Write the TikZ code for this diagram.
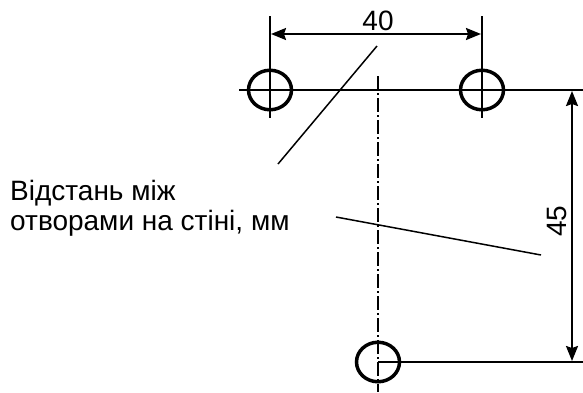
\documentclass[tikz,border=0pt]{standalone}
\usepackage{fontspec}
\setmainfont{Liberation Sans}
\usetikzlibrary{arrows.meta,shapes.geometric}
\tikzset{
  hole/.style={ellipse,draw,line width=3.5pt,minimum width=43pt,minimum height=39.5pt,inner sep=0pt},
  thin line/.style={line width=1.5pt},
  dim line/.style={line width=2pt,{Stealth[length=15pt,width=12pt,inset=2pt]}-{Stealth[length=15pt,width=12pt,inset=2pt]}},
  axis line/.style={line width=1.5pt,dash pattern=on 14pt off 3pt on 2pt off 3pt},
  label/.style={font=\fontsize{28}{30}\selectfont,inner sep=0pt}
}
\begin{document}
\begin{tikzpicture}[x=1pt,y=-1pt]
  \useasboundingbox (0,0) rectangle (583,392);
  \node[hole] (L) at (270,90) {};
  \node[hole] (R) at (482,90) {};
  \node[hole] (B) at (378,362) {};
  % extension lines
  \coordinate (LT) at (270,16);
  \coordinate (LD) at (270,118);
  \coordinate (RT) at (482,16);
  \coordinate (RD) at (482,118);
  \coordinate (HL) at (239,90);
  \coordinate (HR) at (583,90);
  \coordinate (BR) at (583,362);
  \draw[thin line] (LT) -- (LD);
  \draw[thin line] (RT) -- (RD);
  \draw[thin line] (HL) -- (HR);
  \draw[thin line] (B.center) -- (BR);
  % centre line
  \coordinate (CT) at (378,76);
  \coordinate (CD) at (378,392);
  \draw[axis line] (CT) -- (CD);
  % dimensions
  \coordinate (D1) at (271,34);
  \coordinate (D2) at (481,34);
  \coordinate (D3) at (572,91);
  \coordinate (D4) at (572,361);
  \draw[dim line] (D1) -- (D2);
  \draw[dim line] (D3) -- (D4);
  \node[label] (W) at (378,21) {40};
  \node[label,rotate=90] (H) at (557,221) {45};
  % leaders
  \node[label,anchor=north west,align=left] (T) at (10,180) {Відстань між\\отворами на стіні, мм};
  \coordinate (P1) at (377,46);
  \coordinate (P2) at (278,164);
  \coordinate (P3) at (336,217);
  \coordinate (P4) at (541,255);
  \draw[thin line] (P1) -- (P2);
  \draw[thin line] (P3) -- (P4);
\end{tikzpicture}
\end{document}
